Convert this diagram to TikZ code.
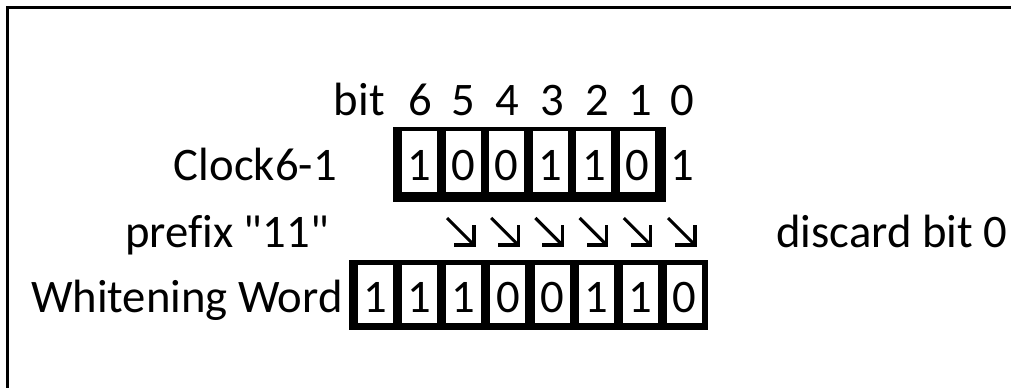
\documentclass[tikz,border=0pt]{standalone}
\usepackage{fontspec}
% plain family: straight quotes and no f-ligatures
\newfontfamily\lblfont[Ligatures=NoCommon]{Carlito}
\begin{document}
\begin{tikzpicture}[x=0.75pt,y=-0.75pt,
  every node/.style={font=\lblfont\fontsize{35}{42}\selectfont, inner sep=0pt},
  txt/.style={anchor=base},
  regbar/.style={fill=black},
  clkcell/.style={anchor=base, fill=white, minimum width=26.25pt,
    text height=36.75pt, text depth=9pt},
  wwcell/.style={anchor=base, fill=white, minimum width=26.25pt,
    text height=35.25pt, text depth=8.25pt},
  shiftarrow/.style={line width=2.3pt, line cap=butt, line join=miter}]
\useasboundingbox (0,0) rectangle (1011,387);
\clip (0,0) rectangle (1011,387);
\fill[white] (0,0) rectangle (1011,387);
% outer frame, open towards right and bottom
\draw[line width=2.2pt] (7.5,420) |- (1100,7.5);

% bit numbering
\node[txt, anchor=base east] (bitlbl) at (385,115) {bit};
\foreach \b/\x in {6/420,5/463,4/507,3/552,2/597,1/640,0/682}
  \node[txt] (b\b) at (\x,115) {\b};

% Clock6-1 register
\node[txt, anchor=base east] (clklbl) at (337,180) {Clock6-1};
\fill[regbar] (393,127) rectangle (666,202);
\foreach \i/\v in {6/1,5/0,4/0,3/1,2/1,1/0}
  \node[clkcell] (c\i) at ({419.5+43.6*(6-\i)},180) {\v};
\node[txt] (c0) at (682,180) {1};

% prefix row
\node[txt, anchor=base east] (prelbl) at (329,247) {prefix "11"};
\node[txt, anchor=base west] (disc) at (776,247) {discard bit 0};
\foreach \k in {0,...,5}{
  \coordinate (a\k) at ({461+44.2*\k},231);
  \draw[shiftarrow] ([shift={(-14,-13)}]a\k) -- ([shift={(13,14)}]a\k);
  \draw[shiftarrow] ([shift={(13,-6)}]a\k) -- ([shift={(13,14)}]a\k) -- ([shift={(-7,14)}]a\k);
}

% Whitening word register
\node[txt, anchor=base east] (wwlbl) at (343,312) {Whitening Word};
\fill[regbar] (349,260) rectangle (708,330);
\foreach \i/\v in {0/1,1/1,2/1,3/0,4/0,5/1,6/1,7/0}
  \node[wwcell] (w\i) at ({375.5+44.14*\i},312) {\v};
\end{tikzpicture}
\end{document}
